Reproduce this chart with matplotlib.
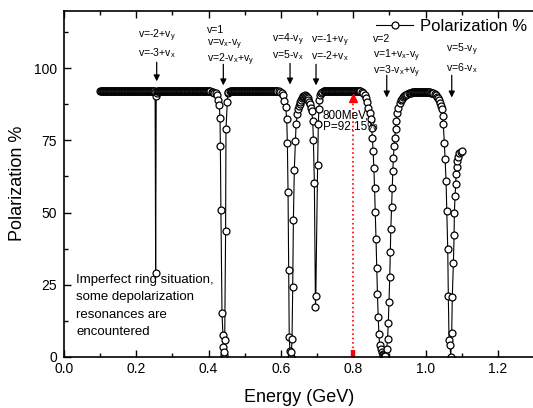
import numpy as np
import matplotlib
matplotlib.use("Agg")
import matplotlib.pyplot as plt
from matplotlib.ticker import MultipleLocator, FormatStrFormatter

plt.rcParams['font.family'] = ['Liberation Sans', 'DejaVu Sans']
plt.rcParams['mathtext.fontset'] = 'custom'
plt.rcParams['mathtext.rm'] = 'Liberation Sans'

# ---------------- data ----------------
step = 0.002  # simulation energy step on the flat parts
plateau_start = [0.100, 0.258, 0.462, 0.720, 0.968]
plateau_stop = [0.250, 0.402, 0.590, 0.818, 1.010]
plateau_level = [92.15, 92.15, 92.15, 92.15, 91.8]

dip1_E = [0.252, 0.2535, 0.255, 0.256]
dip1_P = [91.8, 29.2, 90.4, 91.6]

dip2_E = [0.404, 0.408, 0.412, 0.416, 0.4205, 0.424, 0.427, 0.4295, 0.4315,
          0.4325, 0.434, 0.437, 0.4395, 0.441, 0.4425, 0.4435, 0.4445, 0.447,
          0.448, 0.4518, 0.4528, 0.455, 0.458]
dip2_P = [92.0, 91.9, 91.7, 91.5, 91.3, 90.6, 89.0, 87.2, 82.9,
          73.0, 51.0, 15.1, 7.5, 3.5, 0.5, 1.5, 5.8, 43.7,
          78.8, 88.4, 91.3, 91.7, 92.0]

dip3_E = [0.594, 0.598, 0.602, 0.6067, 0.6095, 0.613, 0.616, 0.6178, 0.6197,
          0.6215, 0.623, 0.625, 0.627, 0.629, 0.6307, 0.6326, 0.6345, 0.637,
          0.640, 0.642, 0.6455, 0.648, 0.650, 0.652, 0.654, 0.656, 0.658,
          0.660, 0.662, 0.664, 0.666, 0.668, 0.670, 0.672, 0.674, 0.676,
          0.678, 0.680, 0.683, 0.685, 0.688, 0.6898, 0.6925, 0.6955, 0.6965,
          0.7015, 0.7035, 0.705, 0.7065, 0.709, 0.712, 0.715, 0.718]
dip3_P = [92.0, 91.8, 91.4, 90.8, 88.6, 86.7, 82.5, 74.2, 57.0,
          30.1, 7.0, 2.0, 0.0, 1.5, 6.0, 24.3, 47.5, 64.7,
          74.7, 80.8, 84.2, 85.8, 86.9, 87.8, 88.5, 89.1, 89.6,
          90.0, 90.3, 90.5, 90.6, 90.5, 90.3, 90.0, 89.6, 89.0,
          88.3, 87.5, 86.3, 85.2, 81.7, 75.3, 60.3, 17.2, 20.9,
          66.6, 80.8, 86.0, 89.2, 90.6, 91.3, 91.7, 92.0]

dip4_E = [0.820, 0.824, 0.828, 0.832, 0.836, 0.839, 0.842, 0.8465, 0.849,
          0.851, 0.853, 0.855, 0.857, 0.859, 0.861, 0.863, 0.865, 0.867,
          0.869, 0.871, 0.873, 0.876, 0.879, 0.881, 0.883, 0.885, 0.887,
          0.889, 0.8925, 0.895, 0.897, 0.899, 0.901, 0.9025, 0.904, 0.906,
          0.908, 0.9095, 0.911, 0.913, 0.915, 0.917, 0.919, 0.922, 0.9245,
          0.929, 0.932, 0.935, 0.938, 0.941, 0.944, 0.947, 0.950, 0.953,
          0.956, 0.959, 0.962, 0.965]
dip4_P = [92.1, 91.9, 91.5, 90.9, 89.8, 88.2, 86.3, 84.6, 82.3,
          79.4, 75.9, 71.3, 65.5, 58.5, 50.2, 40.8, 30.9, 21.7,
          13.9, 7.9, 4.1, 2.5, 1.7, 1.0, 0.6, 0.3, 0.1,
          0.2, 2.6, 6.0, 11.8, 19.1, 27.5, 36.2, 44.4, 51.9,
          58.5, 64.3, 69.0, 73.0, 75.9, 78.8, 81.7, 84.6, 86.3,
          88.1, 88.9, 89.5, 89.9, 90.3, 90.6, 90.9, 91.1, 91.3,
          91.5, 91.6, 91.7, 91.8]

dip5_E = [1.013, 1.016, 1.019, 1.022, 1.025, 1.028, 1.031, 1.034, 1.037,
          1.040, 1.043, 1.045, 1.0475, 1.049, 1.052, 1.054, 1.0567, 1.0587,
          1.0614, 1.063, 1.065, 1.0678, 1.0697, 1.0724, 1.074, 1.077, 1.079,
          1.0797, 1.0816, 1.0835, 1.0844, 1.0863, 1.088, 1.0907, 1.0935,
          1.097, 1.1015]
dip5_P = [91.7, 91.6, 91.5, 91.3, 91.0, 90.6, 90.1, 89.6, 88.9,
          88.0, 87.0, 86.0, 83.4, 80.8, 74.2, 68.4, 61.1, 50.7,
          37.3, 21.1, 5.8, 4.1, 0.0, 8.1, 20.6, 32.5, 42.1,
          49.8, 55.6, 60.0, 63.5, 65.7, 67.8, 69.3, 70.5,
          71.0, 71.3]

# resonance annotations: (arrow energy, arrow top, arrow bottom)
arrow_E = [0.2564, 0.4407, 0.6252, 0.6971, 0.8927, 1.0725]
arrow_top = [102.1, 101.4, 101.7, 101.4, 97.6, 97.6]
arrow_bot = [95.5, 94.1, 94.4, 94.1, 89.9, 89.9]

label_lines = [
    [r'v=-2+v$_\mathregular{y}$', r'v=-3+v$_\mathregular{x}$'],
    [r'v=1', r'v=v$_\mathregular{x}$-v$_\mathregular{y}$',
     r'v=2-v$_\mathregular{x}$+v$_\mathregular{y}$'],
    [r'v=4-v$_\mathregular{y}$', r'v=5-v$_\mathregular{x}$'],
    [r'v=-1+v$_\mathregular{y}$', r'v=-2+v$_\mathregular{x}$'],
    [r'v=2', r'v=1+v$_\mathregular{x}$-v$_\mathregular{y}$',
     r'v=3-v$_\mathregular{x}$+v$_\mathregular{y}$'],
    [r'v=5-v$_\mathregular{y}$', r'v=6-v$_\mathregular{x}$'],
]
label_E = [0.2573, 0.3964, 0.5745, 0.6825, 0.854, 1.0567]
label_ha = ['center', 'left', 'left', 'left', 'left', 'left']
label_baselines = [
    [110.3, 104.1],
    [112.4, 107.8, 102.0],
    [109.1, 103.4],
    [108.9, 103.1],
    [109.0, 103.4, 97.9],
    [105.5, 99.1],
]

marker_E = 0.8
marker_P = 92.15

# ---------------- assemble series ----------------
def plateau(i):
    n = int(round((plateau_stop[i] - plateau_start[i]) / step)) + 1
    e = plateau_start[i] + step * np.arange(n)
    return e, np.full(n, plateau_level[i])

parts_E, parts_P = [], []
order = [('p', 0), ('d', (dip1_E, dip1_P)), ('p', 1), ('d', (dip2_E, dip2_P)),
         ('p', 2), ('d', (dip3_E, dip3_P)), ('p', 3), ('d', (dip4_E, dip4_P)),
         ('p', 4), ('d', (dip5_E, dip5_P))]
for kind, item in order:
    if kind == 'p':
        e, p = plateau(item)
    else:
        e, p = np.array(item[0]), np.array(item[1])
    parts_E.append(e)
    parts_P.append(p)
energy = np.concatenate(parts_E)
polar = np.concatenate(parts_P)

# ---------------- figure ----------------
W, H = 533, 408
fig = plt.figure(figsize=(W / 100, H / 100), dpi=100)
ax = fig.add_axes([64 / W, (H - 356.7) / H, 470 / W, 346 / H])

ax.plot(energy, polar, color='black', lw=0.8, marker='o', ms=5.0,
        mfc='white', mec='black', mew=0.9, label='Polarization %')

ax.set_xlim(0, 1.3)
ax.set_ylim(0, 120)
ax.xaxis.set_major_locator(MultipleLocator(0.2))
ax.xaxis.set_minor_locator(MultipleLocator(0.1))
ax.xaxis.set_major_formatter(FormatStrFormatter('%.1f'))
ax.yaxis.set_major_locator(MultipleLocator(25))
ax.yaxis.set_minor_locator(MultipleLocator(12.5))
ax.tick_params(which='both', direction='in', top=True, right=False,
               width=1.0, labelsize=10)
ax.tick_params(which='major', length=5)
ax.tick_params(which='minor', length=3)
ax.tick_params(axis='x', pad=4)
ax.tick_params(axis='y', pad=5)
ax.spines['right'].set_visible(False)
for s in ['left', 'bottom', 'top']:
    ax.spines[s].set_linewidth(1.2)

ax.set_xlabel('Energy (GeV)', fontsize=13, va='center')
ax.xaxis.set_label_coords(0.5, (356.7 - 397) / 346)
ax.set_ylabel('Polarization %', fontsize=13, va='center')
ax.yaxis.set_label_coords((17.5 - 64) / 470, 0.5)

# resonance labels and arrows
for i in range(len(arrow_E)):
    ax.annotate('', xy=(arrow_E[i], arrow_bot[i]), xytext=(arrow_E[i], arrow_top[i]),
                arrowprops=dict(arrowstyle='-|>', color='black', lw=0.9,
                                mutation_scale=9, shrinkA=0, shrinkB=0))
    for txt, yb in zip(label_lines[i], label_baselines[i]):
        ax.text(label_E[i], yb, txt, fontsize=7.6, ha=label_ha[i], va='baseline')

# 800 MeV marker
ax.plot([marker_E, marker_E], [0, marker_P - 2.5], color='red', ls=':', lw=1.2)
ax.plot([marker_E], [marker_P - 2.4], marker='^', color='red', ms=6, mec='red')
ax.plot([marker_E, marker_E], [0, 2.3], color='red', lw=3.2, solid_capstyle='butt')
ax.text(0.7156, 85.9, '800MeV,\nP=92.15%', fontsize=8.5, ha='left', va='top',
        linespacing=1.05)

ax.text(0.0332, 28.7, 'Imperfect ring situation,\nsome depolarization\n'
        'resonances are\nencountered', fontsize=9.5, ha='left', va='top',
        linespacing=1.6)

leg = ax.legend(loc='center right', bbox_to_anchor=(526.7 / W, 1 - 26.7 / H),
                bbox_transform=fig.transFigure, frameon=False, fontsize=12,
                handlelength=2.2, handletextpad=0.4, borderpad=0,
                borderaxespad=0, numpoints=1)

fig.savefig('out.png', dpi=100)
